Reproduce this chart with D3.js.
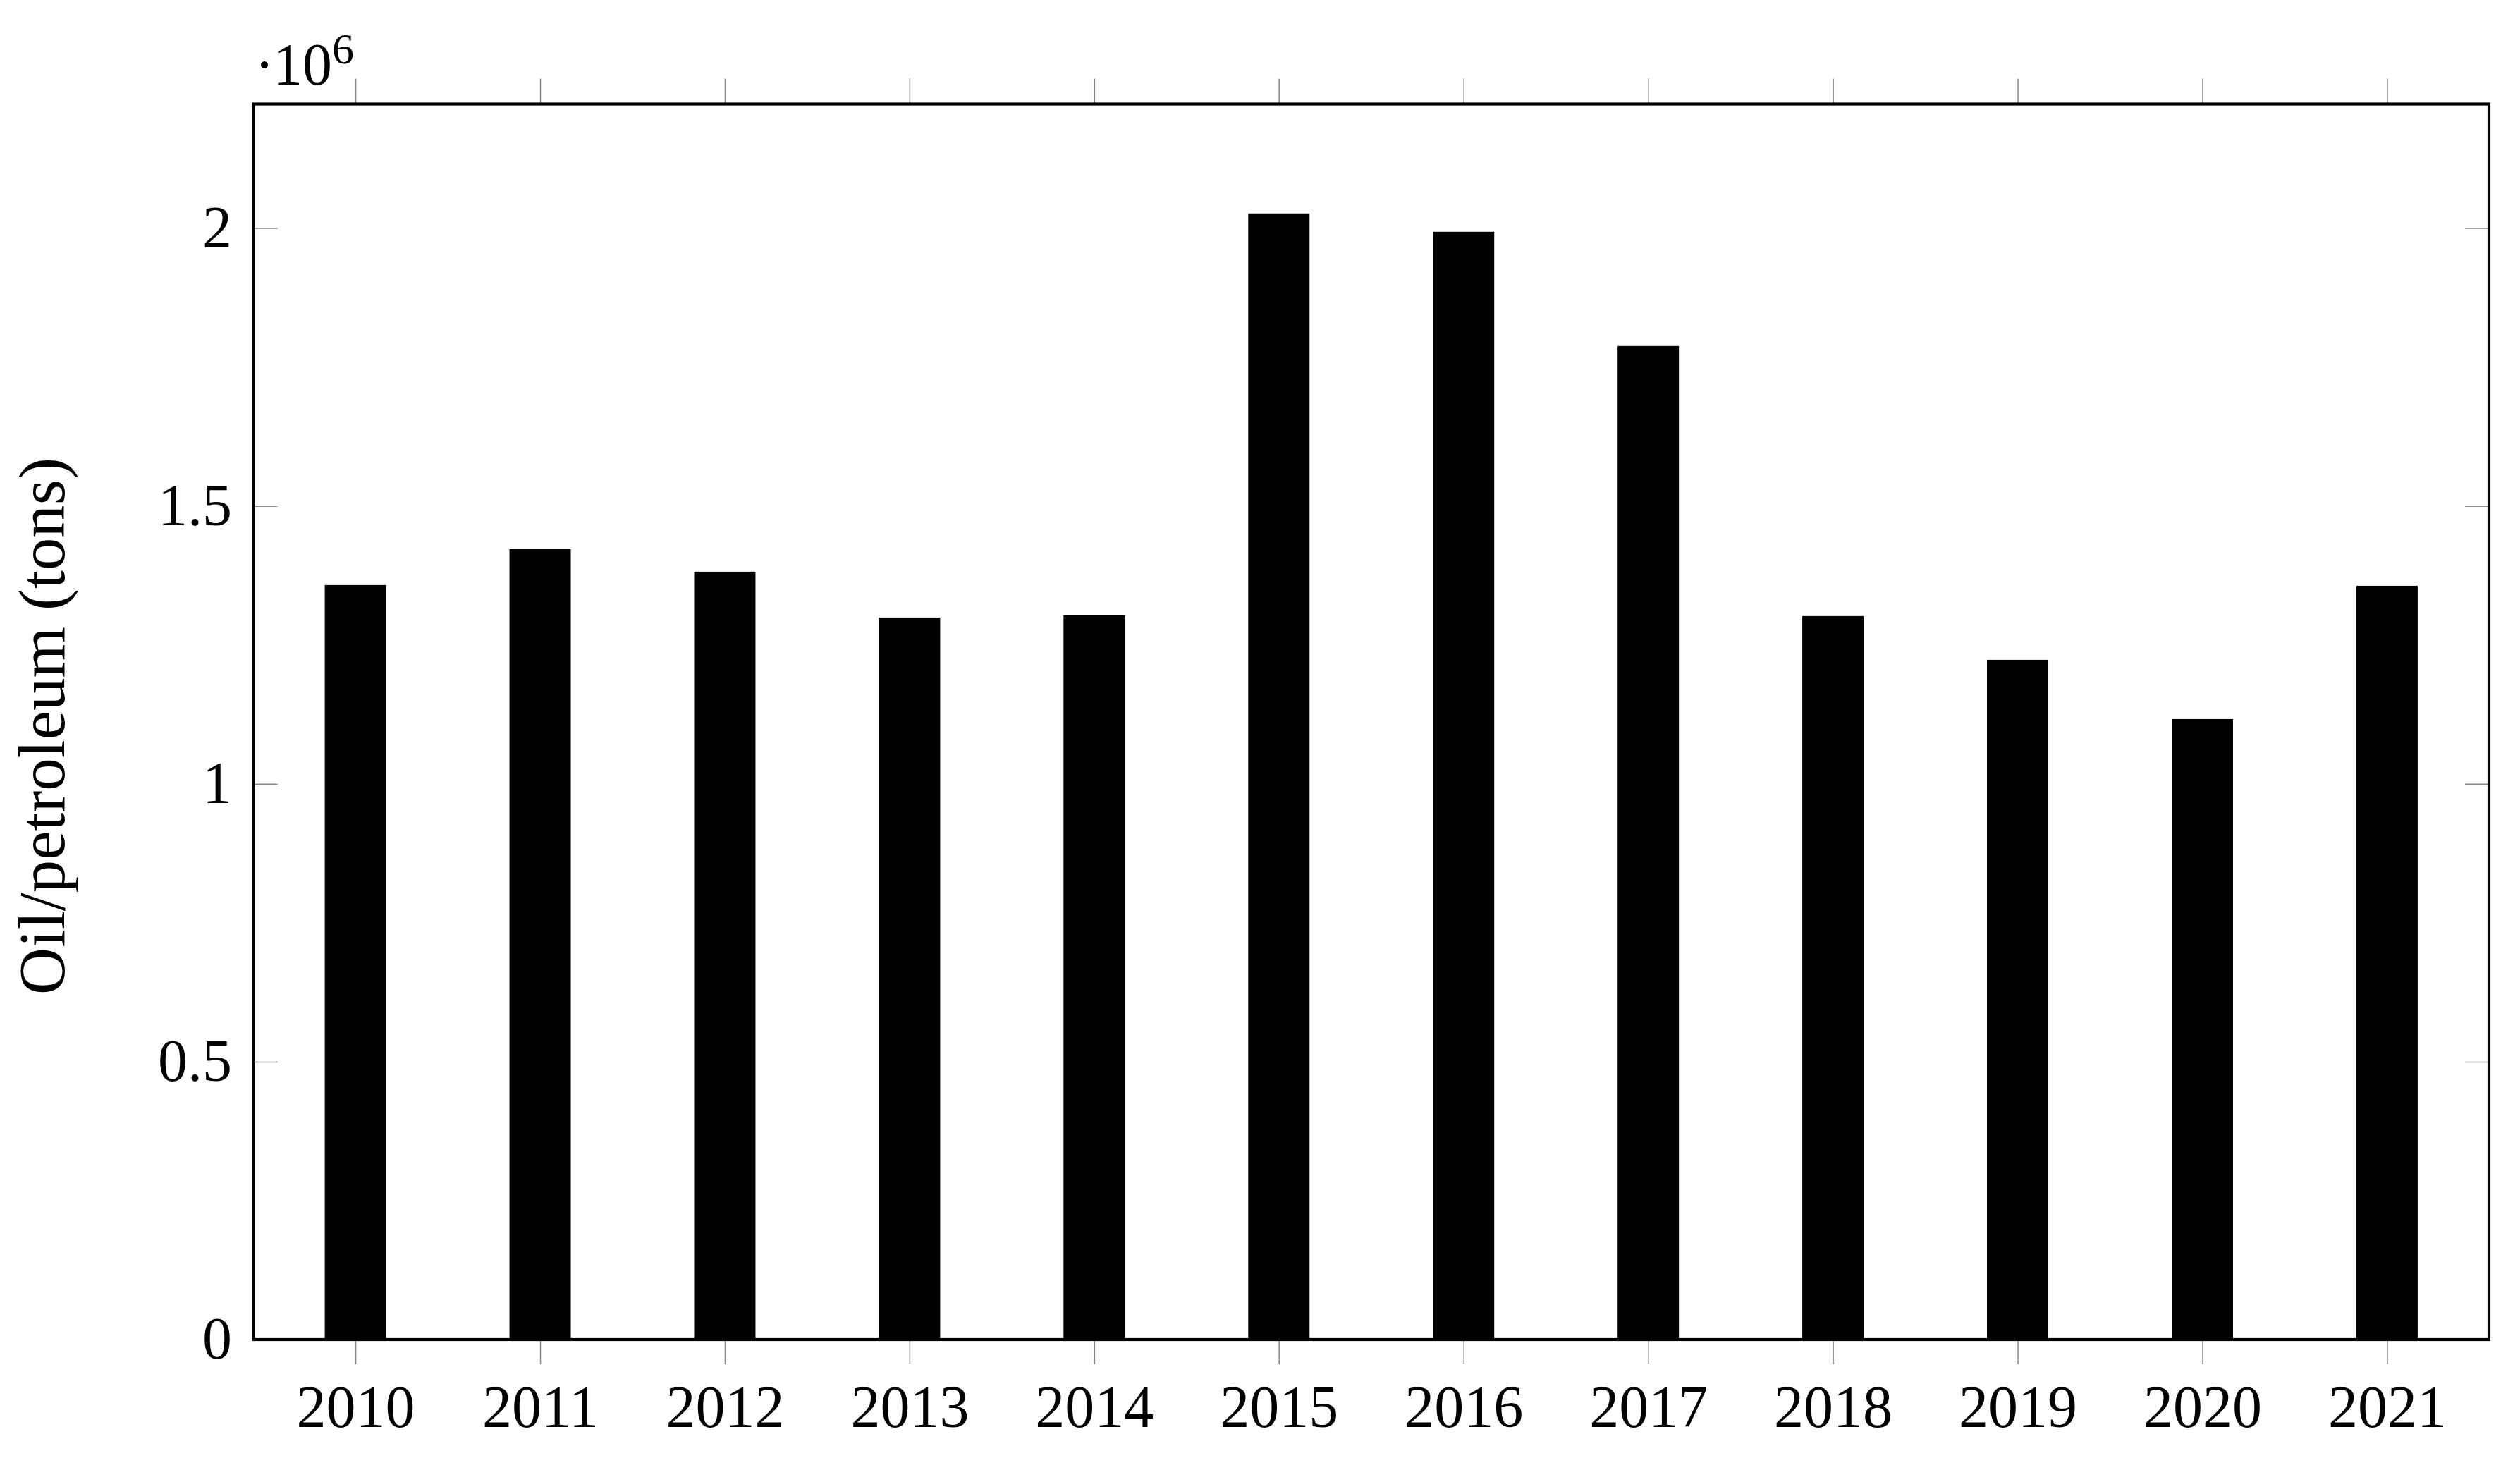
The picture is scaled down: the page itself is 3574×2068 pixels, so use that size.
<!DOCTYPE html>
<html>
<head>
<meta charset="utf-8">
<script src="https://d3js.org/d3.v7.min.js"></script>
<style>
    body { margin: 0; background: #fff; }
    text { font-family: "Liberation Serif", "DejaVu Serif", serif; fill: #000; }
</style>
</head>
<body>
<div id="chart"></div>
<script>
var width = 3574;
var height = 2068;

// data (tons, in millions)
var years = [2010, 2011, 2012, 2013, 2014, 2015, 2016, 2017, 2018, 2019, 2020, 2021];
var oil = [1.3576, 1.4223, 1.3817, 1.2992, 1.3030, 2.0263, 1.9933, 1.7877, 1.3018, 1.2231, 1.1165, 1.3563];
var yTicks = [0, 0.5, 1, 1.5, 2];
var yTickLabels = ["0", "0.5", "1", "1.5", "2"];

/* plot box */
var plotLeft = 359.5, plotRight = 3530, plotTop = 147.5, plotBottom = 1900;

var xScale = d3.scaleLinear().domain([2009.448, 2021.552]).range([plotLeft, plotRight]);
var yScale = d3.scaleLinear().domain([0, 2.2233]).range([plotBottom, plotTop]);
var barHalf = 0.166; // half bar width in year units

var svg = d3.select("#chart")
    .append("svg")
    .attr("width", width)
    .attr("height", height);

// bars
svg.selectAll(".bar")
    .data(years)
    .enter()
    .append("rect")
    .attr("class", "bar")
    .attr("fill", "#000")
    .attr("x", function (d) { return xScale(d - barHalf); })
    .attr("width", function (d) { return xScale(d + barHalf) - xScale(d - barHalf); })
    .attr("y", function (d, i) { return yScale(oil[i]); })
    .attr("height", function (d, i) { return yScale(0) - yScale(oil[i]); });

// x ticks, bottom (outside) and top (outside)
var xAxisBottom = d3.axisBottom(xScale).tickValues(years).tickSize(35).tickPadding(29).tickFormat(d3.format("d"));
var gxb = svg.append("g")
    .attr("transform", "translate(0," + plotBottom + ")")
    .call(xAxisBottom);
gxb.select(".domain").remove();
gxb.selectAll(".tick line").attr("stroke", "#888").attr("stroke-width", 1.5);
gxb.selectAll(".tick text")
    .attr("font-size", 84)
    .attr("font-family", "Liberation Serif")
    .attr("fill", "#000");

var xAxisTop = d3.axisTop(xScale).tickValues(years).tickSize(36).tickFormat("");
var gxt = svg.append("g")
    .attr("transform", "translate(0," + plotTop + ")")
    .call(xAxisTop);
gxt.select(".domain").remove();
gxt.selectAll(".tick line").attr("stroke", "#888").attr("stroke-width", 1.5);

// y ticks, inward on both sides
var yAxisLeft = d3.axisLeft(yScale).tickValues(yTicks).tickSize(-34).tickPadding(30.5)
    .tickFormat(function (d, i) { return yTickLabels[i]; });
var gyl = svg.append("g")
    .attr("transform", "translate(" + plotLeft + ",0)")
    .call(yAxisLeft);
gyl.select(".domain").remove();
gyl.selectAll(".tick line").attr("stroke", "#888").attr("stroke-width", 1.5);
gyl.selectAll(".tick text")
    .attr("font-size", 84)
    .attr("font-family", "Liberation Serif")
    .attr("fill", "#000");

var yAxisRight = d3.axisRight(yScale).tickValues(yTicks).tickSize(-34).tickFormat("");
var gyr = svg.append("g")
    .attr("transform", "translate(" + plotRight + ",0)")
    .call(yAxisRight);
gyr.select(".domain").remove();
gyr.selectAll(".tick line").attr("stroke", "#888").attr("stroke-width", 1.5);

// frame
svg.append("rect")
    .attr("x", plotLeft)
    .attr("y", plotTop)
    .attr("width", plotRight - plotLeft)
    .attr("height", plotBottom - plotTop)
    .attr("fill", "none")
    .attr("stroke", "#000")
    .attr("stroke-width", 4.2);

// scale label  ·10^6
svg.append("text")
    .attr("x", 375)
    .attr("y", 120)
    .attr("text-anchor", "middle")
    .attr("font-size", 84)
    .text("\u00B7");
svg.append("text")
    .attr("x", 387)
    .attr("y", 120)
    .attr("font-size", 84)
    .text("10");
svg.append("text")
    .attr("x", 471)
    .attr("y", 90)
    .attr("font-size", 62)
    .text("6");

// y axis title
svg.append("text")
    .attr("transform", "translate(91," + 1030 + ") rotate(-90)")
    .attr("text-anchor", "middle")
    .attr("font-size", 93)
    .text("Oil/petroleum (tons)");
</script>
</body>
</html>
